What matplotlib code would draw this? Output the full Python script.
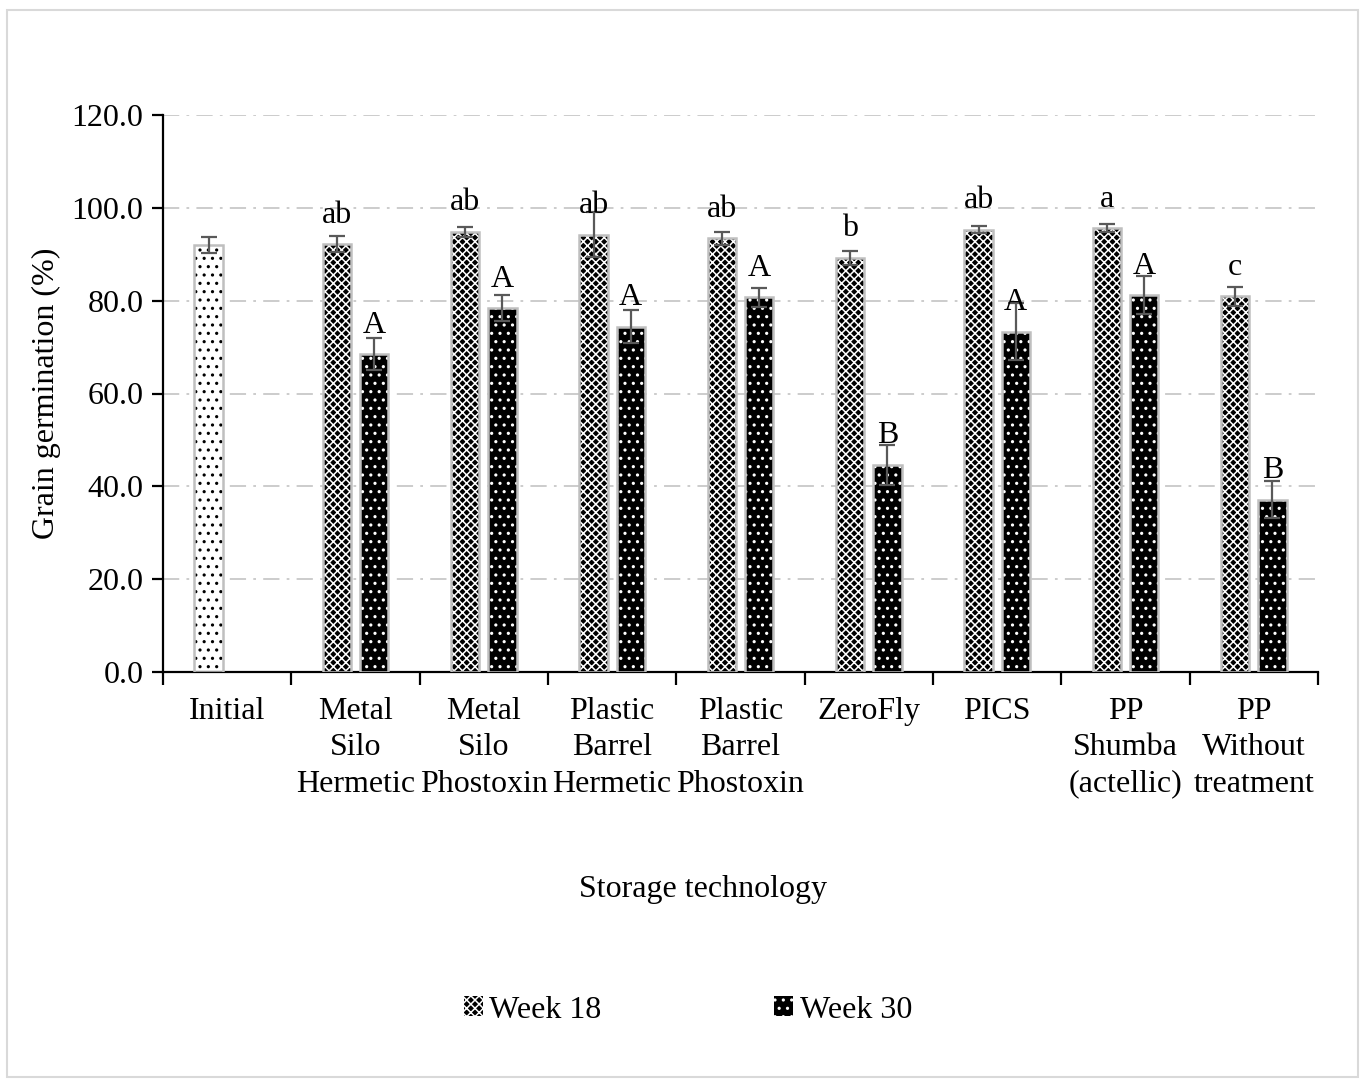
import matplotlib
matplotlib.use("Agg")
import matplotlib.pyplot as plt
import matplotlib.patches as mpatches
import numpy as np

# ---- data -------------------------------------------------------------
categories = ["Initial", "Metal\nSilo\nHermetic", "Metal\nSilo\nPhostoxin",
              "Plastic\nBarrel\nHermetic", "Plastic\nBarrel\nPhostoxin",
              "ZeroFly", "PICS", "PP\nShumba\n(actellic)", "PP\nWithout\ntreatment"]

initial_value = 92.0
initial_err = 1.8

week18 = [92.2, 94.8, 94.2, 93.4, 89.2, 95.3, 95.6, 80.9]
week18_err = [1.8, 1.0, 4.8, 1.3, 1.5, 0.7, 0.9, 2.1]
week18_letters = ["ab", "ab", "ab", "ab", "b", "ab", "a", "c"]

week30 = [68.5, 78.4, 74.4, 80.7, 44.6, 73.3, 81.2, 37.1]
week30_err = [3.5, 2.8, 3.6, 2.0, 4.3, 6.1, 4.1, 4.0]
week30_letters = ["A", "A", "A", "A", "B", "A", "A", "B"]

y_ticks = [0, 20, 40, 60, 80, 100, 120]

# ---- style ------------------------------------------------------------
plt.rcParams["font.family"] = ["Liberation Serif", "DejaVu Serif"]
plt.rcParams["hatch.linewidth"] = 1.1
FS = 23

fig = plt.figure(figsize=(13.63, 10.83), dpi=100)
ax = fig.add_axes([163 / 1363, 1 - 672 / 1083, (1318 - 163) / 1363, (672 - 115) / 1083])

# light frame around the whole chart area
fig.patches.append(mpatches.Rectangle((7 / 1363, 1 - 1077 / 1083), 1351 / 1363, 1067 / 1083,
                                      transform=fig.transFigure, fill=False,
                                      edgecolor="#d9d9d9", linewidth=1.5))

width = 0.22
off = 0.145
edge = "#bfbfbf"
err_color = "#595959"

x_rest = np.arange(1, len(categories))

def hatched_bars(x, h, face, hatch, hatch_col):
    # fill + hatch drawn in the hatch colour, then a grey outline on top
    ax.bar(x, h, width, color=face, edgecolor=hatch_col, hatch=hatch, linewidth=0, zorder=2)
    ax.bar(x, h, width, fill=False, edgecolor=edge, linewidth=1.8, zorder=3)

# initial sample
hatched_bars([0 - off], [initial_value], "white", "..", "black")
ax.errorbar([0 - off], [initial_value], yerr=[initial_err], fmt="none",
            ecolor=err_color, elinewidth=1.6, capsize=6, capthick=1.6, zorder=4)

# week 18
hatched_bars(x_rest - off, week18, "black", "xxxx", "white")
ax.errorbar(x_rest - off, week18, yerr=week18_err, fmt="none",
            ecolor=err_color, elinewidth=1.6, capsize=6, capthick=1.6, zorder=4)

# week 30
hatched_bars(x_rest + off, week30, "black", "..", "white")
ax.errorbar(x_rest + off, week30, yerr=week30_err, fmt="none",
            ecolor=err_color, elinewidth=1.6, capsize=6, capthick=1.6, zorder=4)

# significance letters
for xi, v, s in zip(x_rest - off, week18, week18_letters):
    ax.annotate(s, (xi, v), xytext=(0, 29), textcoords="offset pixels",
                ha="center", va="center", fontsize=FS, zorder=5)
for xi, v, s in zip(x_rest + off, week30, week30_letters):
    ax.annotate(s, (xi, v), xytext=(0, 29), textcoords="offset pixels",
                ha="center", va="center", fontsize=FS, zorder=5)

# axes
ax.set_xlim(-0.5, len(categories) - 0.5)
ax.set_ylim(0, 120)
ax.set_yticks(y_ticks)
ax.set_yticklabels([f"{t:.1f}" for t in y_ticks], fontsize=FS)
ax.set_xticks(np.arange(len(categories)))
ax.set_xticklabels(categories, fontsize=FS, linespacing=1.33)
ax.set_xticks(np.arange(len(categories) + 1) - 0.5, minor=True)
ax.tick_params(axis="x", which="major", length=0, pad=18)
ax.tick_params(axis="x", which="minor", length=9, width=1.6, direction="out")
ax.tick_params(axis="y", length=8, width=1.6, direction="out", pad=6)

for s in ("top", "right"):
    ax.spines[s].set_visible(False)
ax.spines["left"].set_linewidth(1.6)
ax.spines["bottom"].set_linewidth(1.6)

ax.yaxis.grid(True, linestyle=(0, (9, 4, 1.5, 4)), color="#c8c8c8", linewidth=1.3, zorder=0)
ax.set_axisbelow(True)

ax.set_ylabel("Grain germination (%)", fontsize=FS, labelpad=8)
fig.text(703 / 1363, 1 - 890 / 1083, "Storage technology", fontsize=FS, ha="center", va="center")

# legend
h18 = mpatches.Patch(facecolor="black", edgecolor="white", hatch="xxxx", linewidth=0)
h30 = mpatches.Patch(facecolor="black", edgecolor="white", hatch="..", linewidth=0)
fig.legend([h18, h30], ["Week 18", "Week 30"], loc="center",
           bbox_to_anchor=(688 / 1363, 1 - 1010 / 1083), ncol=2, frameon=False,
           fontsize=FS, handlelength=0.6, handleheight=0.6, handletextpad=0.2,
           columnspacing=5.4)

fig.savefig("out.png", dpi=100, facecolor="white")
